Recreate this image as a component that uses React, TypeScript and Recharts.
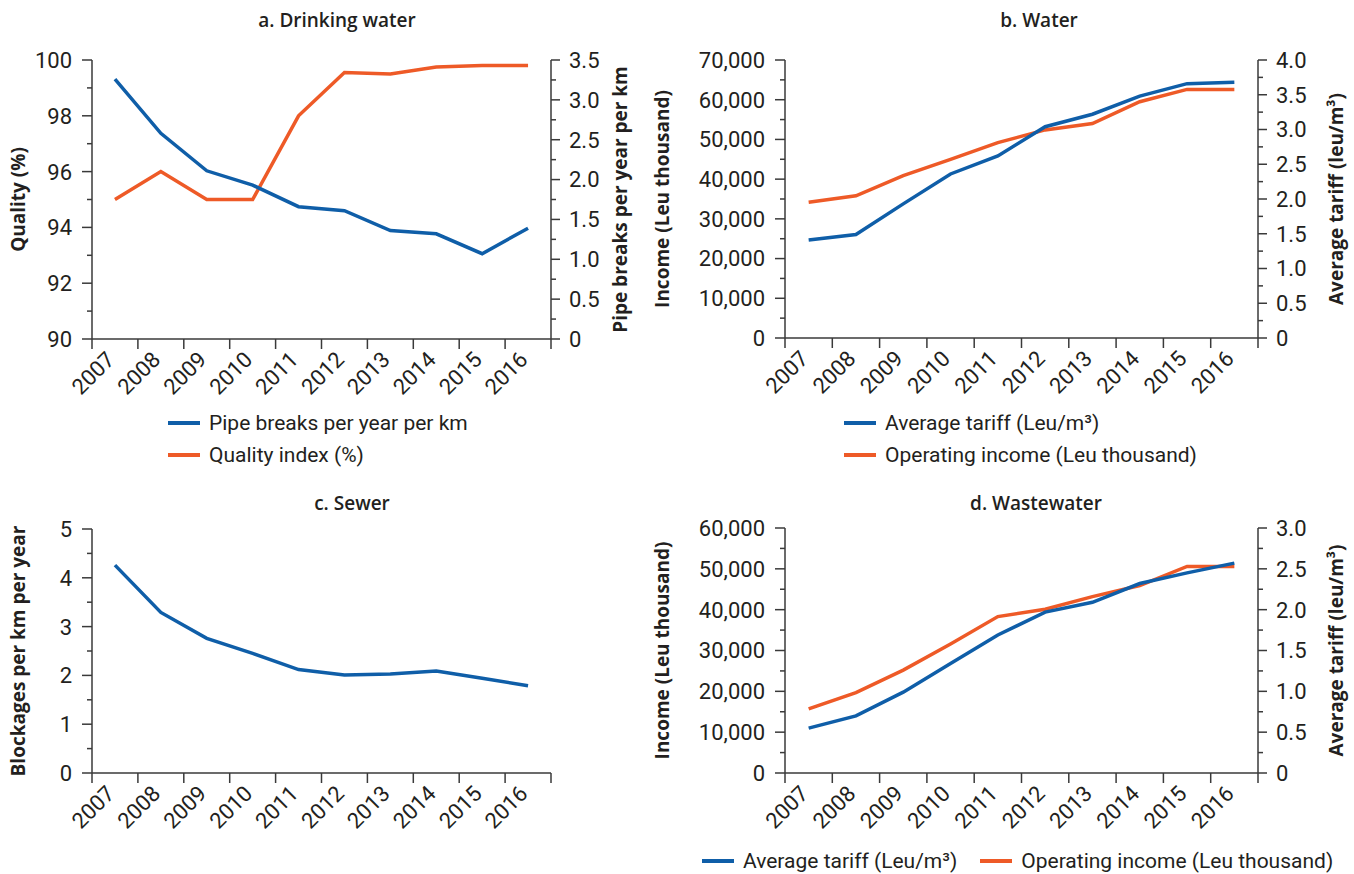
import { LineChart, Line, XAxis, YAxis, Legend } from "recharts";

const years = ["2007", "2008", "2009", "2010", "2011", "2012", "2013", "2014", "2015", "2016"];

// a. Drinking water
const pipeBreaks = [3.26, 2.58, 2.11, 1.93, 1.66, 1.61, 1.36, 1.32, 1.07, 1.39];
const qualityIndex = [95.0, 96.0, 95.0, 95.0, 98.0, 99.55, 99.5, 99.75, 99.8, 99.8];

// b. Water
const waterTariff = [1.41, 1.49, 1.93, 2.36, 2.62, 3.04, 3.22, 3.48, 3.66, 3.68];
const waterIncome = [34200, 35800, 40900, 45000, 49200, 52400, 54000, 59500, 62600, 62600];

// c. Sewer
const sewerBlockages = [4.26, 3.29, 2.76, 2.45, 2.12, 2.01, 2.03, 2.09, 1.94, 1.79];

// d. Wastewater
const wasteTariff = [0.55, 0.7, 0.99, 1.34, 1.69, 1.97, 2.09, 2.32, 2.45, 2.57];
const wasteIncome = [15700, 19700, 25200, 31600, 38300, 40100, 43200, 45900, 50600, 50600];

// tick values
const yearEdges = [0, 1, 2, 3, 4, 5, 6, 7, 8, 9, 10];
const qualityTicks = [90, 91, 92, 93, 94, 95, 96, 97, 98, 99, 100];
const breaksTicks = [0, 0.25, 0.5, 0.75, 1, 1.25, 1.5, 1.75, 2, 2.25, 2.5, 2.75, 3, 3.25, 3.5];
const waterIncomeTicks = [0, 5000, 10000, 15000, 20000, 25000, 30000, 35000, 40000, 45000, 50000, 55000, 60000, 65000, 70000];
const waterTariffTicks = [0, 0.25, 0.5, 0.75, 1, 1.25, 1.5, 1.75, 2, 2.25, 2.5, 2.75, 3, 3.25, 3.5, 3.75, 4];
const sewerTicks = [0, 0.5, 1, 1.5, 2, 2.5, 3, 3.5, 4, 4.5, 5];
const wasteIncomeTicks = [0, 5000, 10000, 15000, 20000, 25000, 30000, 35000, 40000, 45000, 50000, 55000, 60000];
const wasteTariffTicks = [0, 0.25, 0.5, 0.75, 1, 1.25, 1.5, 1.75, 2, 2.25, 2.5, 2.75, 3];

const drinkingData = years.map((year, i) => ({ year, x: i + 0.5, breaks: pipeBreaks[i], quality: qualityIndex[i] }));
const waterData = years.map((year, i) => ({ year, x: i + 0.5, tariff: waterTariff[i], income: waterIncome[i] }));
const sewerData = years.map((year, i) => ({ year, x: i + 0.5, blockages: sewerBlockages[i] }));
const wasteData = years.map((year, i) => ({ year, x: i + 0.5, tariff: wasteTariff[i], income: wasteIncome[i] }));

const BLUE = "#0f5ea8";
const ORANGE = "#ee5a27";
const INK = "#231f20";
const AXIS = "#3a3a3a";

const tickFont = { fontFamily: "Roboto, sans-serif", fontSize: 22, fill: INK };
const axisLine = { stroke: AXIS, strokeWidth: 1.5 };

const isEven = (v: number) => v % 2 === 0;
const isInt = (v: number) => Math.abs(v - Math.round(v)) < 1e-6;
const isHalf = (v: number) => isInt(v * 2);
const isTenK = (v: number) => v % 10000 === 0;
const fmtInt = (v: number) => String(v);
const fmtDec = (v: number) => (v === 0 ? "0" : v.toFixed(1));
const fmtThousands = (v: number) => v.toLocaleString("en-US");

function yearTick(bandWidth: number) {
  return (props: any) => {
    const { x, y, payload } = props;
    const label = years[payload.value];
    if (label === undefined) return <g />;
    const ex = x + bandWidth / 2 + 1;
    const ey = y + 10;
    return (
      <text x={ex} y={ey} textAnchor="end" transform={`rotate(-45 ${ex} ${ey})`} style={tickFont}>
        {label}
      </text>
    );
  };
}

function yTick(side: "left" | "right", isMajor: (v: number) => boolean, fmt: (v: number) => string) {
  return (props: any) => {
    const { x, y, payload } = props;
    const v = payload.value;
    const major = isMajor(v);
    if (side === "left") {
      const ax = x + 20;
      const len = major ? 10 : 5;
      return (
        <g>
          <line x1={ax - len} y1={y} x2={ax} y2={y} stroke={AXIS} strokeWidth={1.5} />
          {major && (
            <text x={x} y={y} dy="0.36em" textAnchor="end" style={tickFont}>
              {fmt(v)}
            </text>
          )}
        </g>
      );
    }
    const ax = x - 18;
    const len = major ? 9 : 5;
    return (
      <g>
        <line x1={ax} y1={y} x2={ax + len} y2={y} stroke={AXIS} strokeWidth={1.5} />
        {major && (
          <text x={x} y={y} dy="0.36em" textAnchor="start" style={tickFont}>
            {fmt(v)}
          </text>
        )}
      </g>
    );
  };
}

function axisTitle(text: string, dx: number) {
  return (props: any) => {
    const vb = props.viewBox;
    const cx = vb.x + dx;
    const cy = vb.y + vb.height / 2;
    return (
      <text
        x={cx}
        y={cy}
        textAnchor="middle"
        dominantBaseline="central"
        transform={`rotate(-90 ${cx} ${cy})`}
        style={{ fontFamily: "'Open Sans', sans-serif", fontWeight: 700, fontSize: 19, fill: INK }}
      >
        {text}
      </text>
    );
  };
}

// blue series first in every legend, like the reference
function legendContent(direction: "column" | "row") {
  return (props: any) => {
    const items = [...(props.payload ?? [])].sort((a: any, b: any) => (a.color === BLUE ? -1 : 0) - (b.color === BLUE ? -1 : 0));
    return (
      <div style={{ display: "flex", flexDirection: direction, gap: direction === "row" ? 23 : 0 }}>
        {items.map((it: any) => (
          <div key={it.value} style={{ display: "flex", alignItems: "center", height: 32 }}>
            <svg width={32} height={6}>
              <line x1={0} y1={3} x2={32} y2={3} stroke={it.color} strokeWidth={4} />
            </svg>
            <span style={{ marginLeft: 9, fontFamily: "Roboto, sans-serif", fontSize: 21, color: INK, whiteSpace: "nowrap" }}>
              {it.value}
            </span>
          </div>
        ))}
      </div>
    );
  };
}

const titleStyle = {
  position: "absolute" as const,
  transform: "translate(-50%, -50%)",
  fontFamily: "'Open Sans', sans-serif",
  fontWeight: 600,
  fontSize: 19,
  color: INK,
  whiteSpace: "nowrap" as const,
};

export default function App() {
  const bwLeft = 459 / 10;
  const bwRight = 473 / 10;
  return (
    <div style={{ position: "absolute", left: 0, top: 0, width: 1354, height: 874, background: "#fff" }}>
      <div style={{ ...titleStyle, left: 337, top: 20 }}>a. Drinking water</div>
      <div style={{ ...titleStyle, left: 1039, top: 20 }}>b. Water</div>
      <div style={{ ...titleStyle, left: 352, top: 503 }}>c. Sewer</div>
      <div style={{ ...titleStyle, left: 1036, top: 503 }}>d. Wastewater</div>

      <div style={{ position: "absolute", left: 0, top: 0 }}>
        <LineChart width={680} height={480} data={drinkingData} margin={{ top: 60, right: 49, bottom: 81, left: 0 }}>
          <XAxis
            type="number"
            dataKey="x"
            domain={[0, 10]}
            ticks={yearEdges}
            interval={0}
            height={60}
            tickSize={10}
            tickMargin={2}
            axisLine={axisLine}
            tickLine={axisLine}
            tick={yearTick(bwLeft)}
          />
          <YAxis
            yAxisId="left"
            type="number"
            domain={[90, 100]}
            ticks={qualityTicks}
            interval={0}
            width={92}
            tickSize={10}
            tickMargin={10}
            tickLine={false}
            axisLine={axisLine}
            tick={yTick("left", isEven, fmtInt)}
            label={axisTitle("Quality (%)", 18)}
          />
          <YAxis
            yAxisId="right"
            orientation="right"
            type="number"
            domain={[0, 3.5]}
            ticks={breaksTicks}
            interval={0}
            width={80}
            tickSize={9}
            tickMargin={9}
            tickLine={false}
            axisLine={axisLine}
            tick={yTick("right", isHalf, fmtDec)}
            label={axisTitle("Pipe breaks per year per km", 69)}
          />
          <Line yAxisId="left" dataKey="quality" name="Quality index (%)" stroke={ORANGE} strokeWidth={3.5} dot={false} activeDot={false} isAnimationActive={false} />
          <Line yAxisId="right" dataKey="breaks" name="Pipe breaks per year per km" stroke={BLUE} strokeWidth={3.5} dot={false} activeDot={false} isAnimationActive={false} />
          <Legend layout="vertical" align="center" verticalAlign="middle" wrapperStyle={{ left: 168, top: 407, width: "auto" }} content={legendContent("column")} />
        </LineChart>
      </div>

      <div style={{ position: "absolute", left: 640, top: 0 }}>
        <LineChart width={714} height={480} data={waterData} margin={{ top: 60, right: 6, bottom: 82, left: 0 }}>
          <XAxis
            type="number"
            dataKey="x"
            domain={[0, 10]}
            ticks={yearEdges}
            interval={0}
            height={60}
            tickSize={10}
            tickMargin={2}
            axisLine={axisLine}
            tickLine={axisLine}
            tick={yearTick(bwRight)}
          />
          <YAxis
            yAxisId="left"
            type="number"
            domain={[0, 70000]}
            ticks={waterIncomeTicks}
            interval={0}
            width={145}
            tickSize={10}
            tickMargin={10}
            tickLine={false}
            axisLine={axisLine}
            tick={yTick("left", isTenK, fmtThousands)}
            label={axisTitle("Income (Leu thousand)", 22)}
          />
          <YAxis
            yAxisId="right"
            orientation="right"
            type="number"
            domain={[0, 4]}
            ticks={waterTariffTicks}
            interval={0}
            width={90}
            tickSize={9}
            tickMargin={9}
            tickLine={false}
            axisLine={axisLine}
            tick={yTick("right", isHalf, fmtDec)}
            label={axisTitle("Average tariff (leu/m³)", 78)}
          />
          <Line yAxisId="left" dataKey="income" name="Operating income (Leu thousand)" stroke={ORANGE} strokeWidth={3.5} dot={false} activeDot={false} isAnimationActive={false} />
          <Line yAxisId="right" dataKey="tariff" name="Average tariff (Leu/m³)" stroke={BLUE} strokeWidth={3.5} dot={false} activeDot={false} isAnimationActive={false} />
          <Legend layout="vertical" align="center" verticalAlign="middle" wrapperStyle={{ left: 204, top: 407, width: "auto" }} content={legendContent("column")} />
        </LineChart>
      </div>

      <div style={{ position: "absolute", left: 0, top: 480 }}>
        <LineChart width={680} height={394} data={sewerData} margin={{ top: 49, right: 129, bottom: 41, left: 0 }}>
          <XAxis
            type="number"
            dataKey="x"
            domain={[0, 10]}
            ticks={yearEdges}
            interval={0}
            height={60}
            tickSize={10}
            tickMargin={2}
            axisLine={axisLine}
            tickLine={axisLine}
            tick={yearTick(bwLeft)}
          />
          <YAxis
            type="number"
            domain={[0, 5]}
            ticks={sewerTicks}
            interval={0}
            width={92}
            tickSize={10}
            tickMargin={10}
            tickLine={false}
            axisLine={axisLine}
            tick={yTick("left", isInt, fmtInt)}
            label={axisTitle("Blockages per km per year", 18)}
          />
          <Line dataKey="blockages" name="Blockages per km per year" stroke={BLUE} strokeWidth={3.5} dot={false} activeDot={false} isAnimationActive={false} />
        </LineChart>
      </div>

      <div style={{ position: "absolute", left: 640, top: 480 }}>
        <LineChart width={714} height={394} data={wasteData} margin={{ top: 48, right: 6, bottom: 41, left: 0 }}>
          <XAxis
            type="number"
            dataKey="x"
            domain={[0, 10]}
            ticks={yearEdges}
            interval={0}
            height={60}
            tickSize={10}
            tickMargin={2}
            axisLine={axisLine}
            tickLine={axisLine}
            tick={yearTick(bwRight)}
          />
          <YAxis
            yAxisId="left"
            type="number"
            domain={[0, 60000]}
            ticks={wasteIncomeTicks}
            interval={0}
            width={145}
            tickSize={10}
            tickMargin={10}
            tickLine={false}
            axisLine={axisLine}
            tick={yTick("left", isTenK, fmtThousands)}
            label={axisTitle("Income (Leu thousand)", 22)}
          />
          <YAxis
            yAxisId="right"
            orientation="right"
            type="number"
            domain={[0, 3]}
            ticks={wasteTariffTicks}
            interval={0}
            width={90}
            tickSize={9}
            tickMargin={9}
            tickLine={false}
            axisLine={axisLine}
            tick={yTick("right", isHalf, fmtDec)}
            label={axisTitle("Average tariff (leu/m³)", 78)}
          />
          <Line yAxisId="left" dataKey="income" name="Operating income (Leu thousand)" stroke={ORANGE} strokeWidth={3.5} dot={false} activeDot={false} isAnimationActive={false} />
          <Line yAxisId="right" dataKey="tariff" name="Average tariff (Leu/m³)" stroke={BLUE} strokeWidth={3.5} dot={false} activeDot={false} isAnimationActive={false} />
          <Legend layout="horizontal" align="center" verticalAlign="middle" wrapperStyle={{ left: 62, top: 365, width: "auto" }} content={legendContent("row")} />
        </LineChart>
      </div>
    </div>
  );
}
